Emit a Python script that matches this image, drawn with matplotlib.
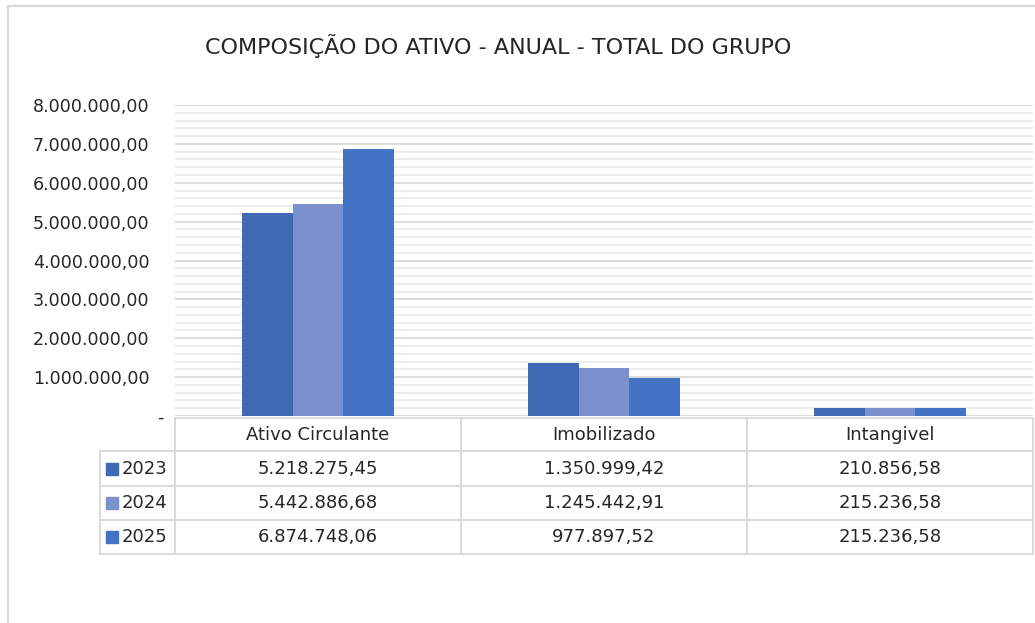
import matplotlib
matplotlib.use("Agg")
import matplotlib.pyplot as plt
from matplotlib.lines import Line2D
from matplotlib.patches import Rectangle
from matplotlib.ticker import MultipleLocator, FuncFormatter
import numpy as np

plt.rcParams['font.family'] = ['DejaVu Sans']

title = "COMPOSIÇÃO DO ATIVO - ANUAL - TOTAL DO GRUPO"
categories = ["Ativo Circulante", "Imobilizado", "Intangivel"]
years = ["2023", "2024", "2025"]
values_2023 = [5218275.45, 1350999.42, 210856.58]
values_2024 = [5442886.68, 1245442.91, 215236.58]
values_2025 = [6874748.06, 977897.52, 215236.58]
series = [values_2023, values_2024, values_2025]
colors = ["#3e69b5", "#7a91cd", "#4472c4"]


def br(v):
    s = f"{v:,.2f}"
    return s.replace(",", "X").replace(".", ",").replace("X", ".")


W, H = 1035, 623
fig = plt.figure(figsize=(W / 100, H / 100), dpi=100)


def fx(px):
    return px / W


def fy(py):
    return 1 - py / H


# outer chart frame (partly cut off)
fig.add_artist(Line2D([fx(8), fx(8)], [fy(6), fy(H + 5)], color="#d9d9d9", lw=1.6))
fig.add_artist(Line2D([fx(8), fx(W + 5)], [fy(6), fy(6)], color="#d9d9d9", lw=1.6))

ax_l, ax_r, ax_t, ax_b = 175, 1033, 105, 416
ax = fig.add_axes([fx(ax_l), fy(ax_b), (ax_r - ax_l) / W, (ax_b - ax_t) / H])

x = np.arange(len(categories))
bw = 0.178
for i, (vals, c) in enumerate(zip(series, colors)):
    ax.bar(x + (i - 1) * bw, vals, width=bw, color=c, zorder=3)

ax.set_xlim(-0.5, len(categories) - 0.5)
ax.set_ylim(0, 8000000)
ax.yaxis.set_major_locator(MultipleLocator(1000000))
ax.yaxis.set_minor_locator(MultipleLocator(200000))
ax.yaxis.set_major_formatter(FuncFormatter(lambda v, p: "" if v == 0 else br(v)))
ax.grid(axis="y", which="major", color="#d9d9d9", lw=1.3, zorder=0)
ax.grid(axis="y", which="minor", color="#ececec", lw=1.3, zorder=0)
ax.set_xticks([])
ax.tick_params(axis="y", which="both", length=0, pad=18.5, labelsize=12.6, labelcolor="#262626")
for s in ax.spines.values():
    s.set_visible(False)
ax.text(-0.0175, -0.006, "-", transform=ax.transAxes, ha="center", va="center",
        fontsize=12.6, color="#262626")

fig.text(fx(498), fy(46), title, ha="center", va="center", fontsize=16, color="#262626")

# data table below the chart
col_edges = [100, 175, 461, 747, 1033]
row_edges = [418, 451, 486, 520, 554]
gc = "#d9d9d9"
lw = 1.4


def hline(x0, x1, y):
    fig.add_artist(Line2D([fx(x0), fx(x1)], [fy(y), fy(y)], color=gc, lw=lw))


def vline(xp, y0, y1):
    fig.add_artist(Line2D([fx(xp), fx(xp)], [fy(y0), fy(y1)], color=gc, lw=lw))


hline(col_edges[1], col_edges[-1], row_edges[0])
for y in row_edges[1:]:
    hline(col_edges[0], col_edges[-1], y)
vline(col_edges[0], row_edges[1], row_edges[-1])
for xp in col_edges[1:]:
    vline(xp, row_edges[0], row_edges[-1])

for j, cat in enumerate(categories):
    cx = (col_edges[j + 1] + col_edges[j + 2]) / 2
    cy = (row_edges[0] + row_edges[1]) / 2
    fig.text(fx(cx), fy(cy), cat, ha="center", va="center", fontsize=13, color="#262626")

for i, (yr, vals, c) in enumerate(zip(years, series, colors)):
    cy = (row_edges[i + 1] + row_edges[i + 2]) / 2
    fig.add_artist(Rectangle((fx(106), fy(cy + 6)), fx(12), 12 / H, color=c,
                             transform=fig.transFigure))
    fig.text(fx(122), fy(cy), yr, ha="left", va="center", fontsize=13, color="#262626")
    for j, v in enumerate(vals):
        cx = (col_edges[j + 1] + col_edges[j + 2]) / 2
        fig.text(fx(cx), fy(cy), br(v), ha="center", va="center", fontsize=13, color="#262626")

fig.savefig("out.png", dpi=100, facecolor="white")
